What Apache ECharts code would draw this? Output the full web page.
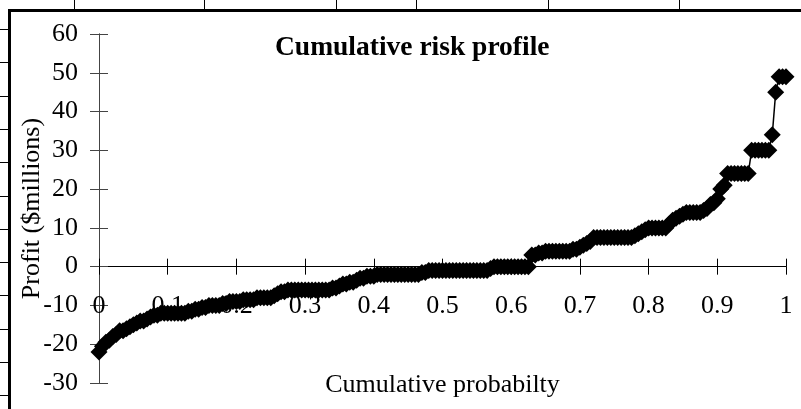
<!DOCTYPE html>
<html>
<head>
<meta charset="utf-8">
<script src="https://cdn.jsdelivr.net/npm/echarts@6/dist/echarts.min.js"></script>
<style>
html,body{margin:0;padding:0;background:#fff;}
#chart{width:801px;height:409px;}
</style>
</head>
<body>
<div id="chart"></div>
<script>
// Cumulative probability (x) and profit in $millions (y)
var probabilities = [
  0.000, 0.005, 0.010, 0.015, 0.020, 0.025, 0.030, 0.035, 0.040, 0.045,
  0.050, 0.055, 0.060, 0.065, 0.070, 0.075, 0.080, 0.085, 0.090, 0.095,
  0.100, 0.105, 0.110, 0.115, 0.120, 0.125, 0.130, 0.135, 0.140, 0.145,
  0.150, 0.155, 0.160, 0.165, 0.170, 0.175, 0.180, 0.185, 0.190, 0.195,
  0.200, 0.205, 0.210, 0.215, 0.220, 0.225, 0.230, 0.235, 0.240, 0.245,
  0.250, 0.255, 0.260, 0.265, 0.270, 0.275, 0.280, 0.285, 0.290, 0.295,
  0.300, 0.305, 0.310, 0.315, 0.320, 0.325, 0.330, 0.335, 0.340, 0.345,
  0.350, 0.355, 0.360, 0.365, 0.370, 0.375, 0.380, 0.385, 0.390, 0.395,
  0.400, 0.405, 0.410, 0.415, 0.420, 0.425, 0.430, 0.435, 0.440, 0.445,
  0.450, 0.455, 0.460, 0.465, 0.470, 0.475, 0.480, 0.485, 0.490, 0.495,
  0.500, 0.505, 0.510, 0.515, 0.520, 0.525, 0.530, 0.535, 0.540, 0.545,
  0.550, 0.555, 0.560, 0.565, 0.570, 0.575, 0.580, 0.585, 0.590, 0.595,
  0.600, 0.605, 0.610, 0.615, 0.620, 0.625, 0.630, 0.635, 0.640, 0.645,
  0.650, 0.655, 0.660, 0.665, 0.670, 0.675, 0.680, 0.685, 0.690, 0.695,
  0.700, 0.705, 0.710, 0.715, 0.720, 0.725, 0.730, 0.735, 0.740, 0.745,
  0.750, 0.755, 0.760, 0.765, 0.770, 0.775, 0.780, 0.785, 0.790, 0.795,
  0.800, 0.805, 0.810, 0.815, 0.820, 0.825, 0.830, 0.835, 0.840, 0.845,
  0.850, 0.855, 0.860, 0.865, 0.870, 0.875, 0.880, 0.885, 0.890, 0.895,
  0.900, 0.905, 0.910, 0.915, 0.920, 0.925, 0.930, 0.935, 0.940, 0.945,
  0.950, 0.955, 0.960, 0.965, 0.970, 0.975, 0.980, 0.985, 0.990, 0.995,
  1.000
];
var profits = [
  -22, -20.5, -19.5, -19, -18, -17.5, -16.5, -16.5, -16, -15.5,
  -15, -14.5, -14, -14, -13.5, -13, -12.5, -12.5, -12, -12,
  -12, -12, -12, -12, -12, -12, -11.5, -11.5, -11, -11,
  -10.5, -10.5, -10, -10, -10, -10, -9.5, -9.5, -9, -9,
  -9, -9, -8.5, -8.5, -8.5, -8.5, -8, -8, -8, -8,
  -8, -7.5, -7, -6.5, -6.5, -6, -6, -6, -6, -6,
  -6, -6, -6, -6, -6, -6, -6, -6, -5.5, -5.5,
  -5, -4.5, -4.5, -4, -4, -3.5, -3, -3, -2.5, -2.5,
  -2.5, -2, -2, -2, -2, -2, -2, -2, -2, -2,
  -2, -2, -2, -2, -1.5, -1.5, -1, -1, -1, -1,
  -1, -1, -1, -1, -1, -1, -1, -1, -1, -1,
  -1, -1, -1, -1, -0.5, 0, 0, 0, 0, 0,
  0, 0, 0, 0, 0, 0, 3, 3, 3.5, 3.5,
  4, 4, 4, 4, 4, 4, 4, 4, 4.5, 4.5,
  5, 5.5, 6, 6.5, 7.5, 7.5, 7.5, 7.5, 7.5, 7.5,
  7.5, 7.5, 7.5, 7.5, 7.5, 7.5, 8, 8.5, 9, 9.5,
  10, 10, 10, 10, 10, 10, 11, 12, 12.5, 13,
  13.5, 14, 14, 14, 14, 14, 14.5, 15, 16, 16.5,
  17.5, 20, 21, 24, 24, 24, 24, 24, 24, 24,
  30, 30, 30, 30, 30, 30, 34, 45, 49, 49,
  49
];
var xTicks = [0, 0.1, 0.2, 0.3, 0.4, 0.5, 0.6, 0.7, 0.8, 0.9, 1];
var yTicks = [-30, -20, -10, 0, 10, 20, 30, 40, 50, 60];

var points = probabilities.map(function (p, i) { return [p, profits[i]]; });

var FONT = '"Liberation Serif", "Times New Roman", serif';
var chart = echarts.init(document.getElementById('chart'), null, {renderer: 'canvas'});

// decorative spreadsheet frame around the chart
var frame = [];
[74, 204, 336, 416, 548, 679].forEach(function (x) {
  frame.push({type: 'line', shape: {x1: x + 0.5, y1: 0, x2: x + 0.5, y2: 10}, style: {stroke: '#000', lineWidth: 1}});
});
[29, 62, 96, 129, 162, 196, 229, 262, 295, 329, 362, 395].forEach(function (y) {
  frame.push({type: 'line', shape: {x1: 0, y1: y + 0.5, x2: 9, y2: y + 0.5}, style: {stroke: '#000', lineWidth: 1}});
});
frame.push({type: 'polyline', shape: {points: [[9.5, 409], [9.5, 10.5], [801, 10.5]]}, style: {stroke: '#000', lineWidth: 3, fill: null}});

var baseX = {
  type: 'value', min: xTicks[0], max: xTicks[xTicks.length - 1], interval: 0.1,
  position: 'bottom',
  splitLine: {show: false}
};
var baseY = {
  type: 'value', min: yTicks[0], max: yTicks[yTicks.length - 1], interval: 10,
  position: 'left',
  axisLine: {show: true, onZero: false, lineStyle: {color: '#444', width: 1}},
  splitLine: {show: false}
};

chart.setOption({
  animation: false,
  backgroundColor: '#fff',
  title: {
    text: 'Cumulative risk profile',
    left: 270, top: 29,
    textStyle: {fontFamily: FONT, fontWeight: 'bold', fontSize: 27.5, color: '#000'}
  },
  grid: {left: 99, right: 15, top: 34, bottom: 26, containLabel: false, outerBoundsMode: 'none'},
  xAxis: [
    // labels and axis title (sit at the plot bottom, pulled up)
    Object.assign({}, baseX, {
      name: 'Cumulative probabilty', nameLocation: 'middle', nameGap: -11, nameMoveOverlap: false,
      nameTextStyle: {fontFamily: FONT, fontSize: 26, color: '#000'},
      axisLine: {show: false, onZero: false},
      axisTick: {show: false},
      axisLabel: {show: true, margin: -90, fontFamily: FONT, fontSize: 26, color: '#000', showMinLabel: true, showMaxLabel: true}
    }),
    // axis line through zero with ticks below
    Object.assign({}, baseX, {
      axisLine: {show: true, onZero: true, lineStyle: {color: '#000', width: 1}},
      axisTick: {show: true, inside: false, length: 8, lineStyle: {color: '#000'}},
      axisLabel: {show: false}
    }),
    // ticks above
    Object.assign({}, baseX, {
      axisLine: {show: true, onZero: true, lineStyle: {color: '#000', width: 1}},
      axisTick: {show: true, inside: true, length: 8, lineStyle: {color: '#000'}},
      axisLabel: {show: false}
    })
  ],
  yAxis: [
    Object.assign({}, baseY, {
      name: 'Profit ($millions)', nameLocation: 'middle', nameGap: 54, nameRotate: 90, nameMoveOverlap: false,
      nameTextStyle: {fontFamily: FONT, fontSize: 26, color: '#000'},
      axisTick: {show: true, inside: false, length: 9, lineStyle: {color: '#444'}},
      axisLabel: {show: true, margin: 21, fontFamily: FONT, fontSize: 26, color: '#000', showMinLabel: true, showMaxLabel: true}
    }),
    Object.assign({}, baseY, {
      axisTick: {show: true, inside: true, length: 9, lineStyle: {color: '#444'}},
      axisLabel: {show: false}
    })
  ],
  graphic: frame,
  series: [{
    type: 'line',
    xAxisIndex: 0, yAxisIndex: 0,
    data: points,
    symbol: 'diamond',
    symbolSize: 17,
    showAllSymbol: true,
    itemStyle: {color: '#000'},
    lineStyle: {color: '#000', width: 1.5},
    z: 5
  }]
});
</script>
</body>
</html>
